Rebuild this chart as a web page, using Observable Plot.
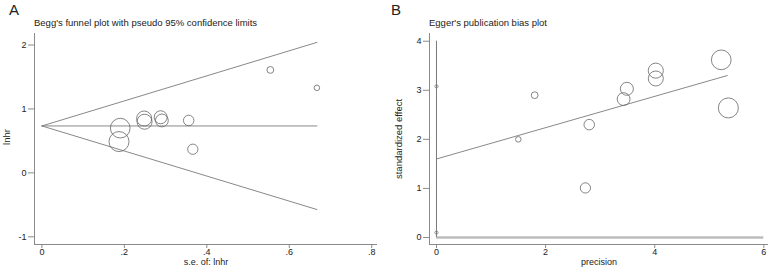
<!DOCTYPE html>
<html>
<head>
<meta charset="utf-8">
<script src="https://cdn.jsdelivr.net/npm/d3@7"></script>
<script src="https://cdn.jsdelivr.net/npm/@observablehq/plot@0.6"></script>
<style>
  html, body { margin: 0; padding: 0; background: #fff; }
  #wrap { position: relative; width: 772px; height: 267px; font-family: "Liberation Sans", Arial, sans-serif; color: #222; }
  .panel { position: absolute; top: 0; }
  .letter { position: absolute; font-size: 15px; line-height: 1; }
  .title { position: absolute; font-size: 9.5px; line-height: 1; white-space: nowrap; }
</style>
</head>
<body>
<div id="wrap">
  <div id="pa" class="panel" style="left:0px"></div>
  <div id="pb" class="panel" style="left:390px"></div>
  <div class="letter" style="left:9px; top:2px;">A</div>
  <div class="letter" style="left:391px; top:2px;">B</div>
  <div class="title" style="left:34px; top:18px;">Begg's funnel plot with pseudo 95% confidence limits</div>
  <div class="title" style="left:429px; top:18px;">Egger's publication bias plot</div>
</div>
<script>
// ---- Panel A: Begg's funnel plot ----
const seA     = [0.190, 0.187, 0.248, 0.249, 0.288, 0.291, 0.356, 0.366, 0.554, 0.667];
const lnhrA   = [0.70, 0.49, 0.85, 0.80, 0.87, 0.82, 0.82, 0.37, 1.61, 1.33];
const weights = [27.7, 28.6, 16.3, 16.1, 12.1, 11.8, 7.9, 7.5, 3.3, 2.2];
const funnelSe    = [0, 0.667];
const funnelMid   = [0.734, 0.734];
const funnelUpper = [0.734, 2.041];
const funnelLower = [0.734, -0.573];
const xTicksA = [0, 0.2, 0.4, 0.6, 0.8];
const xTickLabelsA = ["0", ".2", ".4", ".6", ".8"];
const yTicksA = [-1, 0, 1, 2];
const xDomA = [-0.018, 0.814];
const yDomA = [-1.12, 2.18];

// ---- Panel B: Egger's plot ----
const precisionB = [5.22, 5.35, 4.02, 4.02, 3.49, 3.43, 2.80, 2.73, 1.80, 1.50];
const effectB    = [3.62, 2.64, 3.40, 3.24, 3.03, 2.82, 2.30, 1.01, 2.90, 2.00];
const eggerLineX = [0, 5.33];
const eggerLineY = [1.60, 3.30];
const ciX   = [0, 0];
const ciY   = [3.08, 0.10];
const vLine = [0, 4];
const hLineX = [0, 6];
const xTicksB = [0, 2, 4, 6];
const yTicksB = [0, 1, 2, 3, 4];
const xDomB = [-0.128, 6.086];
const yDomB = [-0.143, 4.157];

const FONT = "Liberation Sans, Arial, sans-serif";
const GRAY = "#7a7a7a";
const AX = "#8a8a8a";
const CIRC = "#666";
const maxW = d3.max(weights);

const studiesA = seA.map((s, i) => ({se: s, lnhr: lnhrA[i], w: weights[i]}));
const studiesB = precisionB.map((p, i) => ({p, e: effectB[i], w: weights[i]}));
const line2 = (xs, ys) => xs.map((x, i) => ({x, y: ys[i]}));

const plotA = Plot.plot({
  width: 390, height: 267,
  marginLeft: 34, marginRight: 13, marginTop: 33, marginBottom: 23,
  style: {fontFamily: FONT, fontSize: "9px", color: "#222", background: "transparent", overflow: "visible"},
  x: {domain: xDomA},
  y: {domain: yDomA},
  r: {type: "sqrt", domain: [0, maxW], range: [0, 10]},
  marks: [
    Plot.ruleX([xDomA[0]], {y1: yDomA[0], y2: yDomA[1], stroke: AX, strokeWidth: 1}),
    Plot.ruleY([yDomA[0]], {x1: xDomA[0], x2: xDomA[1], stroke: AX, strokeWidth: 1}),
    Plot.axisX({ticks: xTicksA, tickFormat: d => xTickLabelsA[xTicksA.indexOf(d)], tickSize: 4, tickPadding: 0, stroke: AX, color: "#222", label: null}),
    Plot.axisY({ticks: yTicksA, tickFormat: d => String(d), tickSize: 6, tickPadding: 2, stroke: AX, color: "#222", label: null}),
    Plot.line(line2(funnelSe, funnelUpper), {x: "x", y: "y", stroke: GRAY, strokeWidth: 0.9}),
    Plot.line(line2(funnelSe, funnelLower), {x: "x", y: "y", stroke: GRAY, strokeWidth: 0.9}),
    Plot.line(line2(funnelSe, funnelMid), {x: "x", y: "y", stroke: GRAY, strokeWidth: 0.9}),
    Plot.dot(studiesA, {x: "se", y: "lnhr", r: "w", fill: "none", stroke: CIRC, strokeWidth: 0.8}),
    Plot.text(["s.e. of: lnhr"], {frameAnchor: "bottom", dy: 17.5, lineAnchor: "middle", fill: "#222", fontSize: 9}),
    Plot.text(["lnhr"], {frameAnchor: "left", dx: -28, dy: -2, rotate: -90, textAnchor: "middle", fill: "#222", fontSize: 9.5})
  ]
});
document.getElementById("pa").appendChild(plotA);

const plotB = Plot.plot({
  width: 382, height: 267,
  marginLeft: 39, marginRight: 4, marginTop: 33, marginBottom: 23,
  style: {fontFamily: FONT, fontSize: "9px", color: "#222", background: "transparent", overflow: "visible"},
  x: {domain: xDomB},
  y: {domain: yDomB},
  r: {type: "sqrt", domain: [0, maxW], range: [0, 10]},
  marks: [
    Plot.ruleX([xDomB[0]], {y1: yDomB[0], y2: yDomB[1], stroke: AX, strokeWidth: 1}),
    Plot.ruleY([yDomB[0]], {x1: xDomB[0], x2: xDomB[1], stroke: AX, strokeWidth: 1}),
    Plot.axisX({ticks: xTicksB, tickFormat: d => String(d), tickSize: 4, tickPadding: 0, stroke: AX, color: "#222", label: null}),
    Plot.axisY({ticks: yTicksB, tickFormat: d => String(d), tickSize: 6, tickPadding: 2, stroke: AX, color: "#222", label: null}),
    Plot.ruleY([0], {x1: hLineX[0], x2: hLineX[1], stroke: "#bdbdbd", strokeWidth: 2.5}),
    Plot.ruleX([0], {y1: vLine[0], y2: vLine[1], stroke: GRAY, strokeWidth: 1}),
    Plot.dot(line2(ciX, ciY), {x: "x", y: "y", r: 1.6, fill: "none", stroke: GRAY, strokeWidth: 0.8}),
    Plot.line(line2(eggerLineX, eggerLineY), {x: "x", y: "y", stroke: GRAY, strokeWidth: 0.9}),
    Plot.dot(studiesB, {x: "p", y: "e", r: "w", fill: "none", stroke: CIRC, strokeWidth: 0.8}),
    Plot.text(["precision"], {frameAnchor: "bottom", dy: 17.5, lineAnchor: "middle", fill: "#222", fontSize: 9}),
    Plot.text(["standardized effect"], {frameAnchor: "left", dx: -31, dy: 0, rotate: -90, textAnchor: "middle", fill: "#222", fontSize: 9.5})
  ]
});
document.getElementById("pb").appendChild(plotB);
</script>
</body>
</html>
